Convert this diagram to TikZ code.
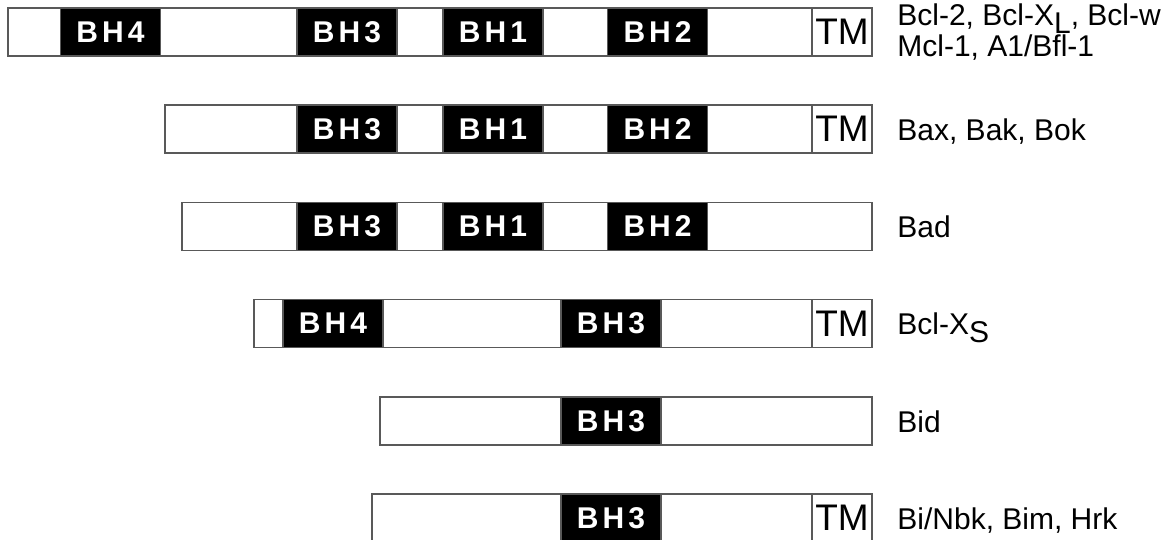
\documentclass[tikz,border=0pt]{standalone}
\usepackage{fontspec}
\setmainfont{Liberation Sans}
\newcommand{\bhfont}{\fontsize{15}{15}\selectfont\bfseries}
\newcommand{\tmfont}{\fontsize{18.5}{18.5}\selectfont}
\newcommand{\protfont}{\fontsize{15}{15.5}\selectfont}
\newcommand{\bhname}[1]{B\kern2pt H\kern2pt #1}
\newcommand{\lowsub}[1]{\raisebox{-4pt}{#1}}

\begin{document}
\begin{tikzpicture}[x=0.5pt,y=-0.5pt,
    bar/.style={draw=black!65,line width=0.75pt,fill=white},
    bh/.style={draw=black!65,line width=0.75pt,fill=black,text=white,font=\bhfont,
        minimum width=50pt,minimum height=24pt,inner sep=0pt},
    tm/.style={draw=black!65,line width=0.75pt,fill=white,font=\tmfont,
        minimum width=30pt,minimum height=24pt,inner sep=0pt},
    protein/.style={anchor=base west,font=\protfont,inner sep=0pt,align=left}]
\useasboundingbox (0,0) rectangle (1173,540);

% Bcl-2, Bcl-XL, Bcl-w
\draw[bar] (8,8) rectangle (872,56);
\node[bh] (r1bh4) at (110.5,32) {\bhname{4}};
\node[bh] (r1bh3) at (347,32) {\bhname{3}};
\node[bh] (r1bh1) at (493,32) {\bhname{1}};
\node[bh] (r1bh2) at (657.5,32) {\bhname{2}};
\node[tm] (r1tm) at (842,32) {TM};
\node[protein] (r1name) at (897,57) {Bcl-2, Bcl-X\lowsub{L}, Bcl-w\\Mcl-1, A1/Bfl-1};

% Bax, Bak, Bok
\draw[bar] (165,105.2) rectangle (872,153.2);
\node[bh] (r2bh3) at (347,129.2) {\bhname{3}};
\node[bh] (r2bh1) at (493,129.2) {\bhname{1}};
\node[bh] (r2bh2) at (657.5,129.2) {\bhname{2}};
\node[tm] (r2tm) at (842,129.2) {TM};
\node[protein] (r2name) at (897,140.5) {Bax, Bak, Bok};

% Bad
\draw[bar] (182,202.4) rectangle (872,250.4);
\node[bh] (r3bh3) at (347,226.4) {\bhname{3}};
\node[bh] (r3bh1) at (493,226.4) {\bhname{1}};
\node[bh] (r3bh2) at (657.5,226.4) {\bhname{2}};
\node[protein] (r3name) at (897,237.7) {Bad};

% Bcl-Xs
\draw[bar] (254,299.6) rectangle (872,347.6);
\node[bh] (r4bh4) at (333,323.6) {\bhname{4}};
\node[bh] (r4bh3) at (611,323.6) {\bhname{3}};
\node[tm] (r4tm) at (842,323.6) {TM};
\node[protein] (r4name) at (897,334.9) {Bcl-X\lowsub{S}};

% Bid
\draw[bar] (380,396.8) rectangle (872,444.8);
\node[bh] (r5bh3) at (611,420.8) {\bhname{3}};
\node[protein] (r5name) at (897,432.1) {Bid};

% Bi/Nbk, Bim, Hrk
\draw[bar] (372,494) rectangle (872,542);
\node[bh] (r6bh3) at (611,518) {\bhname{3}};
\node[tm] (r6tm) at (842,518) {TM};
\node[protein] (r6name) at (897,529.3) {Bi/Nbk, Bim, Hrk};
\end{tikzpicture}
\end{document}
